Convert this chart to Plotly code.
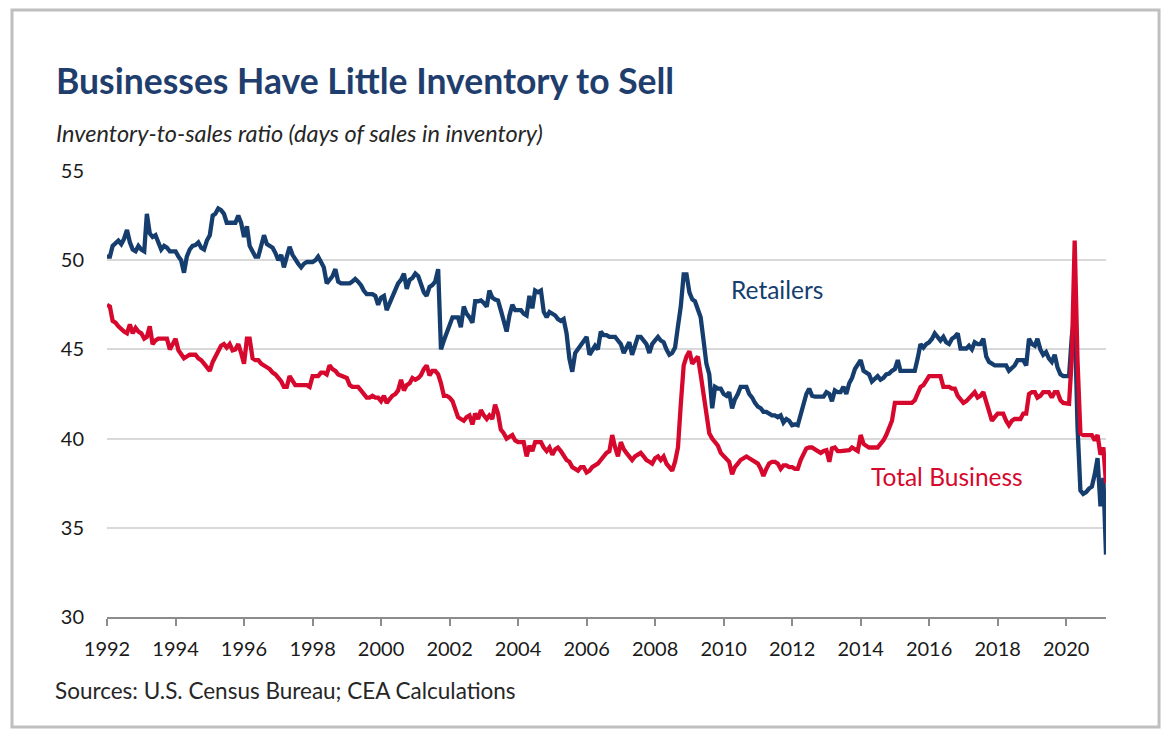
# ------------------------
# Imports
# ------------------------
import pandas as pd
import plotly.graph_objects as go

# ------------------------
# Data: inventory-to-sales ratio, days of sales in inventory (monthly, Jan 1992 - Mar 2021)
# ------------------------
retailers = [
    50.2, 50.2, 50.8, 51.0, 51.1, 50.9, 51.2, 51.7, 51.0, 50.6, 50.5, 50.8,      # 1992
    50.6, 50.5, 52.6, 51.5, 51.3, 51.4, 51.0, 50.6, 50.8, 50.7, 50.5, 50.5,      # 1993
    50.5, 50.2, 50.0, 49.3, 50.2, 50.6, 50.8, 50.85, 51.0, 50.7, 50.6, 51.1,     # 1994
    51.4, 52.5, 52.6, 52.9, 52.8, 52.6, 52.1, 52.1, 52.1, 52.1, 52.5, 52.1,      # 1995
    51.3, 51.9, 50.8, 50.5, 50.2, 50.2, 50.8, 51.4, 50.9, 50.8, 50.7, 50.4,      # 1996
    50.0, 50.3, 49.6, 50.2, 50.75, 50.3, 50.0, 49.8, 49.6, 49.8, 49.9, 49.9,     # 1997
    49.9, 50.0, 50.2, 49.9, 49.6, 48.7, 48.9, 49.1, 49.5, 48.8, 48.7, 48.7,      # 1998
    48.7, 48.7, 48.8, 48.95, 48.8, 48.6, 48.3, 48.1, 48.1, 48.1, 48.0, 47.5,     # 1999
    47.9, 48.0, 47.2, 47.6, 47.9, 48.3, 48.7, 48.9, 49.25, 48.4, 48.9, 49.0,     # 2000
    49.25, 49.1, 48.6, 48.2, 48.0, 48.5, 48.6, 48.8, 49.5, 45.0, 45.5, 45.9,     # 2001
    46.4, 46.8, 46.8, 46.8, 46.25, 47.4, 47.0, 46.8, 46.5, 47.7, 47.7, 47.75,    # 2002
    47.6, 47.4, 48.3, 47.9, 47.8, 47.75, 47.2, 46.6, 46.0, 46.9, 47.5, 47.2,     # 2003
    47.2, 47.2, 47.0, 46.9, 48.0, 47.3, 48.3, 48.2, 48.3, 47.1, 46.8, 47.1,      # 2004
    47.0, 46.9, 46.7, 46.6, 46.7, 45.9, 44.5, 43.75, 44.8, 45.0, 45.3, 45.5,     # 2005
    45.7, 44.7, 45.0, 45.2, 45.0, 46.0, 45.8, 45.8, 45.7, 45.7, 45.7, 45.5,      # 2006
    45.3, 44.8, 45.1, 45.4, 44.7, 45.2, 45.7, 45.7, 45.5, 45.3, 44.8, 45.3,      # 2007
    45.5, 45.7, 45.5, 45.4, 45.0, 44.7, 44.8, 45.1, 46.3, 47.4, 49.2, 49.2,      # 2008
    48.2, 47.8, 47.7, 47.2, 46.8, 45.5, 44.2, 43.6, 41.7, 42.9, 42.8, 42.8,      # 2009
    42.5, 42.4, 42.6, 41.7, 42.2, 42.5, 42.9, 42.9, 42.9, 42.5, 42.3, 42.0,      # 2010
    41.8, 41.7, 41.5, 41.5, 41.4, 41.3, 41.3, 41.2, 41.3, 40.9, 41.1, 41.0,      # 2011
    40.75, 40.8, 40.75, 41.4, 42.0, 42.5, 42.8, 42.4, 42.35, 42.35, 42.35, 42.35,  # 2012
    42.6, 42.5, 42.1, 42.7, 42.6, 42.6, 42.9, 42.5, 43.1, 43.4, 43.9, 44.1,      # 2013
    44.4, 43.8, 43.7, 43.6, 43.2, 43.4, 43.5, 43.3, 43.4, 43.6, 43.65, 43.8,     # 2014
    43.9, 44.4, 43.8, 43.8, 43.8, 43.75, 43.8, 43.8, 44.5, 45.3, 45.1, 45.3,     # 2015
    45.4, 45.6, 45.9, 45.7, 45.5, 45.7, 45.4, 45.3, 45.6, 45.7, 45.9, 45.05,     # 2016
    45.05, 45.05, 45.2, 45.0, 45.4, 45.3, 45.3, 45.6, 44.6, 44.3, 44.2, 44.1,    # 2017
    44.1, 44.1, 44.1, 44.1, 43.8, 44.0, 44.1, 44.4, 44.4, 44.4, 44.1, 45.6,      # 2018
    45.3, 45.2, 45.6, 45.0, 44.7, 44.85, 44.5, 44.3, 44.7, 44.0, 43.6, 43.5,     # 2019
    43.5, 43.5, 45.7, 47.0, 40.7, 37.1, 36.9, 37.0, 37.2, 37.3, 38.0, 38.9,      # 2020
    36.2, 37.8, 33.5,                                                            # 2021
]

total_business = [
    47.5, 47.4, 46.6, 46.5, 46.3, 46.1, 46.0, 45.9, 46.4, 45.9, 46.2, 46.0,      # 1992
    45.9, 45.6, 45.7, 46.3, 45.3, 45.5, 45.6, 45.6, 45.6, 45.6, 45.0, 45.3,      # 1993
    45.6, 44.95, 44.7, 44.5, 44.6, 44.7, 44.7, 44.7, 44.5, 44.4, 44.2, 44.0,     # 1994
    43.8, 44.3, 44.6, 45.0, 45.2, 45.3, 45.1, 45.3, 44.95, 45.0, 45.3, 44.8,     # 1995
    44.2, 45.6, 45.6, 44.5, 44.4, 44.4, 44.2, 44.1, 44.0, 43.9, 43.7, 43.6,      # 1996
    43.4, 43.2, 42.9, 42.9, 43.5, 43.2, 43.0, 43.0, 43.0, 43.0, 43.0, 42.9,      # 1997
    43.5, 43.5, 43.5, 43.7, 43.7, 43.6, 44.1, 43.9, 43.8, 43.6, 43.55, 43.5,     # 1998
    43.4, 43.0, 42.9, 42.9, 42.9, 42.7, 42.5, 42.3, 42.3, 42.4, 42.3, 42.3,      # 1999
    42.1, 42.4, 42.0, 42.2, 42.4, 42.5, 42.7, 43.3, 42.7, 43.0, 43.1, 43.4,      # 2000
    43.3, 43.4, 43.55, 43.9, 44.1, 43.55, 43.8, 43.8, 43.6, 43.1, 42.4, 42.4,    # 2001
    42.3, 42.1, 41.6, 41.2, 41.1, 41.0, 41.2, 41.3, 40.8, 41.4, 41.1, 41.6,      # 2002
    41.3, 41.1, 41.3, 41.1, 41.9, 41.4, 40.5, 40.3, 40.0, 40.1, 40.2, 39.9,      # 2003
    39.8, 39.8, 39.8, 39.0, 39.6, 39.3, 39.8, 39.8, 39.8, 39.5, 39.3, 39.5,      # 2004
    39.1, 39.4, 39.5, 39.3, 39.0, 38.8, 38.7, 38.4, 38.3, 38.2, 38.4, 38.4,      # 2005
    38.1, 38.2, 38.4, 38.5, 38.6, 38.8, 39.0, 39.2, 39.3, 40.2, 39.5, 39.0,      # 2006
    39.8, 39.4, 39.2, 39.0, 38.8, 39.0, 39.1, 39.2, 39.0, 38.8, 38.7, 38.6,      # 2007
    38.9, 39.0, 38.8, 39.0, 38.6, 38.4, 38.2, 38.7, 39.5, 41.9, 44.1, 44.6,      # 2008
    44.9, 44.2, 44.4, 44.6, 43.6, 42.5, 41.2, 40.3, 40.0, 39.8, 39.6, 39.2,      # 2009
    39.0, 38.8, 38.7, 38.0, 38.4, 38.6, 38.8, 38.9, 39.0, 38.9, 38.8, 38.7,      # 2010
    38.6, 38.3, 37.9, 38.3, 38.6, 38.7, 38.7, 38.6, 38.3, 38.5, 38.5, 38.4,      # 2011
    38.4, 38.3, 38.3, 38.8, 39.2, 39.45, 39.5, 39.5, 39.4, 39.3, 39.2, 39.3,     # 2012
    39.35, 38.7, 39.45, 39.5, 39.3, 39.3, 39.3, 39.3, 39.35, 39.5, 39.4, 39.3,   # 2013
    40.2, 39.7, 39.6, 39.5, 39.5, 39.5, 39.5, 39.7, 39.9, 40.2, 40.6, 41.0,      # 2014
    42.0, 42.0, 42.0, 42.0, 42.0, 42.0, 42.0, 42.15, 42.6, 42.9, 43.0, 43.2,     # 2015
    43.5, 43.5, 43.5, 43.5, 43.5, 42.9, 42.9, 42.9, 42.8, 42.8, 42.4, 42.2,      # 2016
    42.0, 42.1, 42.25, 42.4, 42.6, 42.3, 42.4, 42.6, 42.05, 41.6, 41.0, 41.2,    # 2017
    41.4, 41.4, 41.4, 41.0, 40.75, 41.0, 41.1, 41.1, 41.1, 41.4, 41.4, 42.5,     # 2018
    42.6, 42.6, 42.3, 42.4, 42.6, 42.6, 42.6, 42.3, 42.6, 42.6, 42.15, 42.0,     # 2019
    42.0, 41.95, 44.5, 51.1, 44.4, 40.3, 40.2, 40.2, 40.2, 40.2, 39.9, 40.2,     # 2020
    39.1, 39.5, 37.5,                                                            # 2021
]

y_ticks = [30, 35, 40, 45, 50, 55]

dates = pd.date_range("1992-01-01", periods=len(retailers), freq="MS")

# ------------------------
# Colors / fonts
# ------------------------
NAVY = "#153D6E"
RED = "#D6082D"
FONT = "Lato"

# ------------------------
# Figure
# ------------------------
fig = go.Figure()
fig.add_trace(go.Scatter(
    x=dates, y=retailers, mode="lines", name="Retailers",
    line=dict(color=NAVY, width=4.3)
))
fig.add_trace(go.Scatter(
    x=dates, y=total_business, mode="lines", name="Total Business",
    line=dict(color=RED, width=4.3)
))

# series labels
fig.add_annotation(x="2010-03-01", y=48.35, text="Retailers", showarrow=False,
                   xanchor="left", yanchor="middle", font=dict(family=FONT, size=24.5, color=NAVY))
fig.add_annotation(x="2014-04-01", y=37.9, text="Total Business", showarrow=False,
                   xanchor="left", yanchor="middle", font=dict(family=FONT, size=24.5, color=RED))

# title, subtitle, source (paper coords relative to the plot area)
fig.add_annotation(xref="paper", yref="paper", x=-0.053, y=1.204,
                   text="<b>Businesses Have Little Inventory to Sell</b>", showarrow=False,
                   xanchor="left", yanchor="middle", font=dict(family=FONT, size=35.5, color="#1F3E6D"))
fig.add_annotation(xref="paper", yref="paper", x=-0.053, y=1.085,
                   text="<i>Inventory-to-sales ratio (days of sales in inventory)</i>", showarrow=False,
                   xanchor="left", yanchor="middle", font=dict(family=FONT, size=23.5, color="#262626"))
fig.add_annotation(xref="paper", yref="paper", x=-0.054, y=-0.164,
                   text="Sources: U.S. Census Bureau; CEA Calculations", showarrow=False,
                   xanchor="left", yanchor="middle", font=dict(family=FONT, size=22.5, color="#262626"))

# outer frame
fig.add_shape(type="rect", xref="paper", yref="paper",
              x0=-0.0951, x1=1.0531, y0=-0.2466, y1=1.361,
              line=dict(color="#BFBFBF", width=3), fillcolor="rgba(0,0,0,0)", layer="below")

fig.update_layout(
    width=1169,
    height=736,
    margin=dict(l=107, r=63, t=171, b=119),
    paper_bgcolor="white",
    plot_bgcolor="white",
    showlegend=False,
    font=dict(family=FONT, color="#1A1A1A"),
    xaxis=dict(
        type="date",
        range=["1992-01-01", "2021-03-01"],
        tick0="1992-01-01",
        dtick="M24",
        tickformat="%Y",
        showgrid=False,
        showline=True,
        linecolor="#8C8C8C",
        linewidth=1.5,
        ticks="outside",
        ticklen=7,
        tickwidth=1.5,
        tickcolor="#8C8C8C",
        ticklabelstandoff=6,
        tickfont=dict(family=FONT, size=20, color="#1A1A1A"),
        zeroline=False,
    ),
    yaxis=dict(
        range=[30, 55],
        tickvals=y_ticks,
        showgrid=True,
        gridcolor="#D9D9D9",
        gridwidth=1.5,
        showline=False,
        zeroline=False,
        ticks="",
        ticklabelstandoff=22,
        tickfont=dict(family=FONT, size=20, color="#1A1A1A"),
    ),
)

fig.write_html("out.html", config={"displayModeBar": False},
               post_script="document.body.style.margin='0';")
